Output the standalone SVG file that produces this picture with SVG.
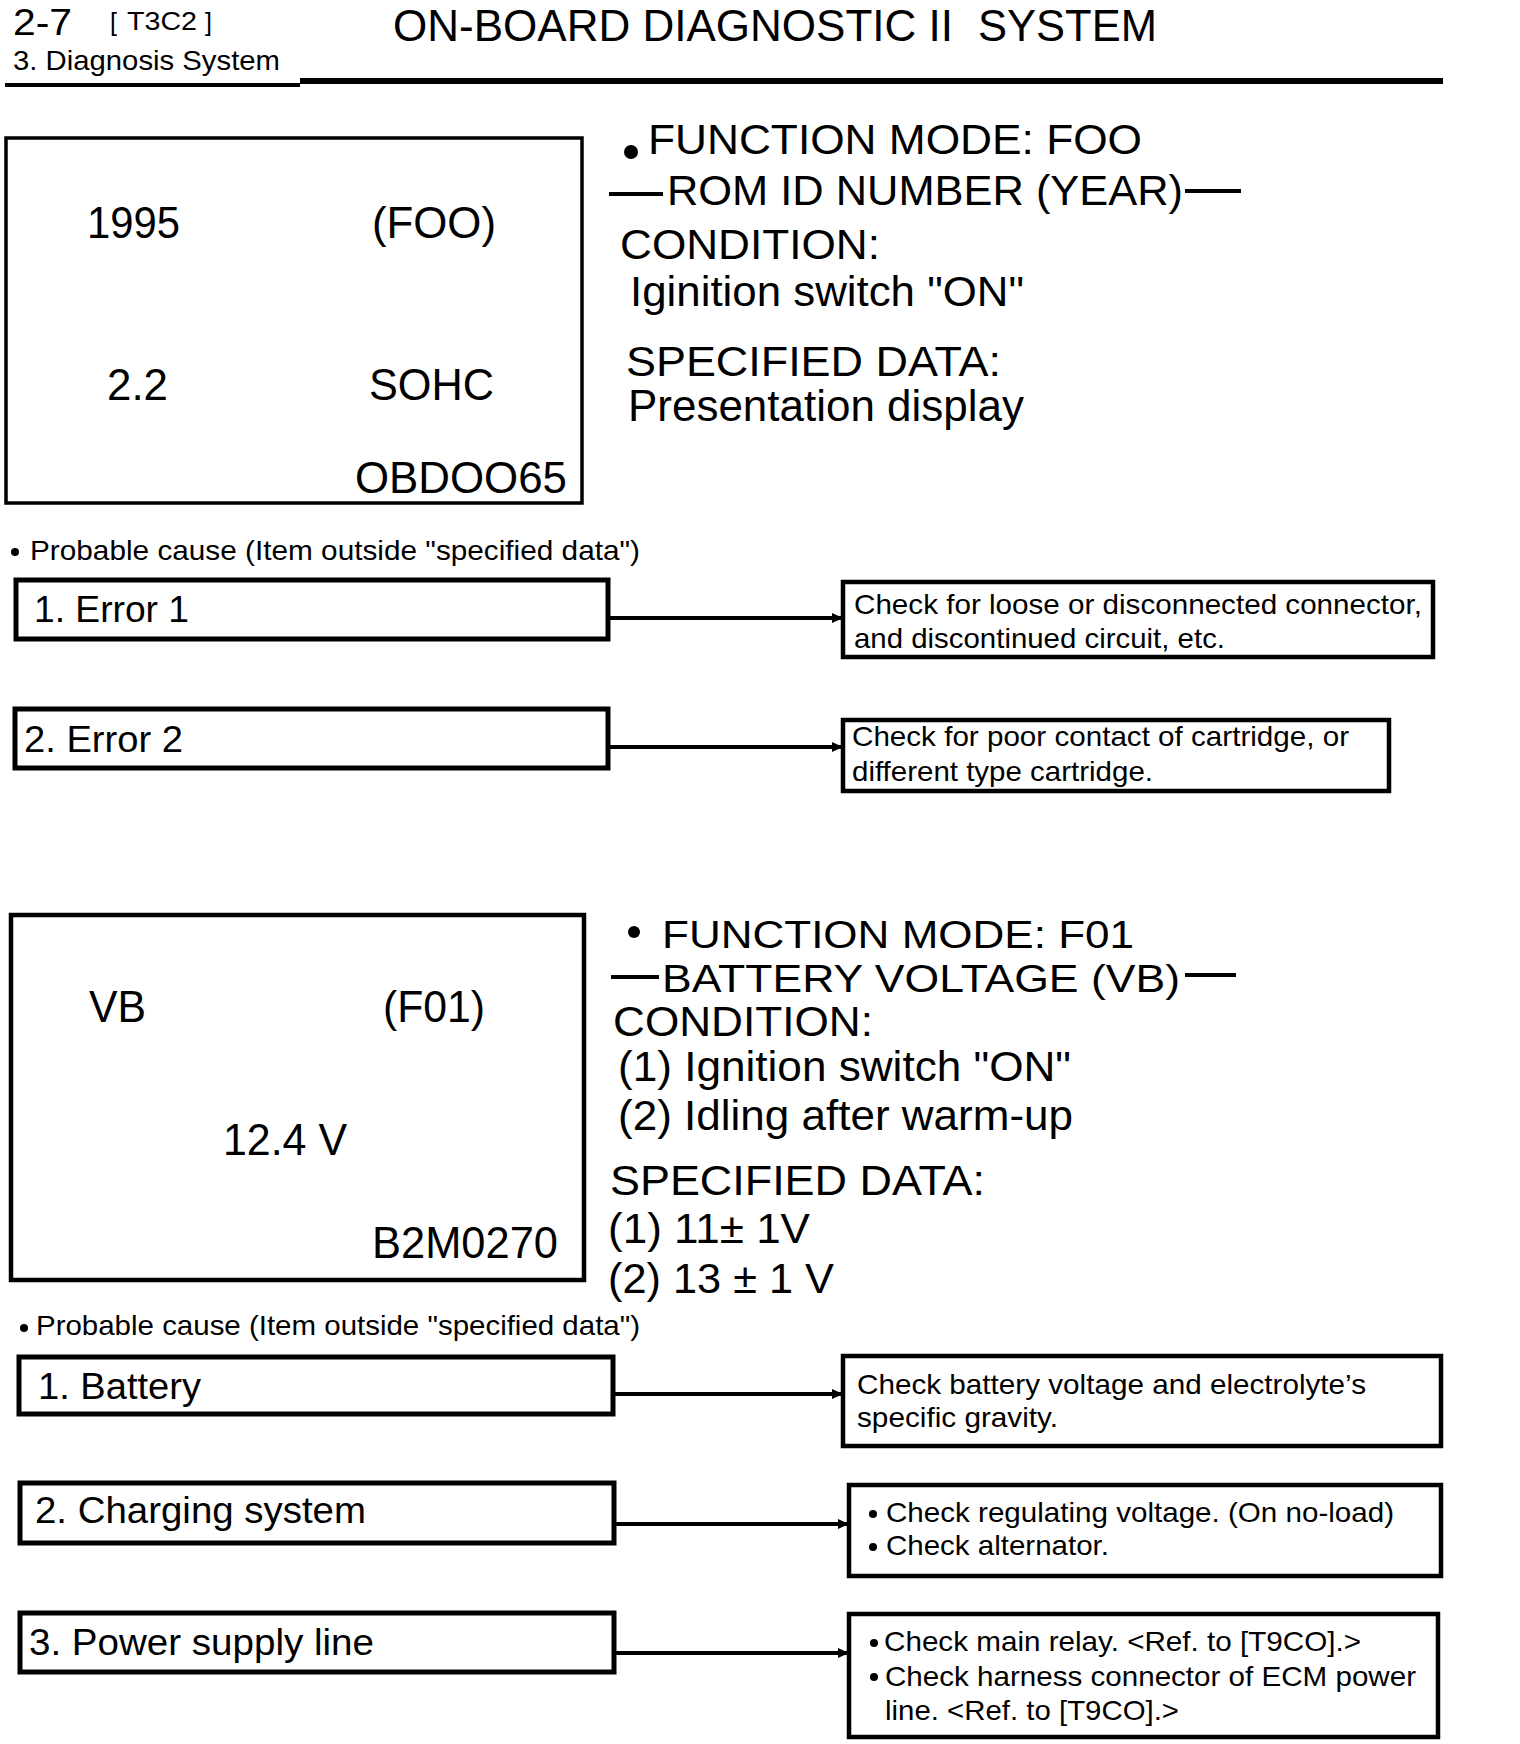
<svg xmlns="http://www.w3.org/2000/svg" width="1520" height="1744" viewBox="0 0 1520 1744">
<style>
text{font-family:"Liberation Sans",Arial,Helvetica,sans-serif;fill:#000}
.hd{font-size:36px}
.sm{font-size:25px}
.sub{font-size:28px}
.ttl{font-size:44px}
.disp{font-size:44px}
.big{font-size:42px}
.cause{font-size:28px}
.item{font-size:36px}
.act{font-size:28px}
.box{fill:#fff;stroke:#000}
.dbox{fill:#fff;stroke:#000;stroke-width:3.5}
.ibox{fill:#fff;stroke:#000;stroke-width:5}
.abox{fill:#fff;stroke:#000;stroke-width:4.5}
.conn{stroke:#000;stroke-width:4;fill:none}
.rule{stroke:#000}
</style>
<defs>
<marker id="ah" markerUnits="userSpaceOnUse" markerWidth="11" markerHeight="10" refX="11" refY="5" orient="auto">
<path d="M0,0 L11,5 L0,10 z" fill="#000"/>
</marker>
</defs>
<rect width="1520" height="1744" fill="#fff"/>

<g id="header">
<text class="hd" x="13" y="35" textLength="59" lengthAdjust="spacingAndGlyphs">2-7</text>
<text class="sm" x="110" y="31">[</text>
<text class="sm" x="127" y="30" textLength="70" lengthAdjust="spacingAndGlyphs">T3C2</text>
<text class="sm" x="205" y="31">]</text>
<text class="sub" x="13" y="70" textLength="267" lengthAdjust="spacingAndGlyphs">3. Diagnosis System</text>
<text class="ttl" x="393" y="41" textLength="560" lengthAdjust="spacingAndGlyphs">ON-BOARD DIAGNOSTIC II</text>
<text class="ttl" x="978" y="41" textLength="179" lengthAdjust="spacingAndGlyphs">SYSTEM</text>
<line class="rule" x1="5" y1="85" x2="300" y2="85" stroke-width="4"/>
<line class="rule" x1="300" y1="81" x2="1443" y2="81" stroke-width="6"/>
</g>

<g id="display-f00">
<rect class="dbox" x="6" y="138" width="576" height="365"/>
<text class="disp" x="87" y="238" textLength="93" lengthAdjust="spacingAndGlyphs">1995</text>
<text class="disp" x="372" y="238" textLength="124" lengthAdjust="spacingAndGlyphs">(FOO)</text>
<text class="disp" x="107" y="400" textLength="61" lengthAdjust="spacingAndGlyphs">2.2</text>
<text class="disp" x="369" y="400" textLength="125" lengthAdjust="spacingAndGlyphs">SOHC</text>
<text class="disp" x="355" y="493" textLength="212" lengthAdjust="spacingAndGlyphs">OBDOO65</text>
</g>

<g id="spec-f00">
<circle cx="631" cy="152" r="7" fill="#000"/>
<text class="big" x="648" y="154" textLength="494" lengthAdjust="spacingAndGlyphs">FUNCTION MODE: FOO</text>
<line class="rule" x1="609" y1="194" x2="663" y2="194" stroke-width="4"/>
<text class="big" x="667" y="205" textLength="516" lengthAdjust="spacingAndGlyphs">ROM ID NUMBER (YEAR)</text>
<line class="rule" x1="1185" y1="191" x2="1241" y2="191" stroke-width="4"/>
<text class="big" x="620" y="259" textLength="260" lengthAdjust="spacingAndGlyphs">CONDITION:</text>
<text class="big" x="630" y="306" textLength="394" lengthAdjust="spacingAndGlyphs">Iginition switch "ON"</text>
<text class="big" x="626" y="376" textLength="375" lengthAdjust="spacingAndGlyphs">SPECIFIED DATA:</text>
<text class="big" x="628" y="421" textLength="396" lengthAdjust="spacingAndGlyphs" style="font-size:44px">Presentation display</text>
</g>

<g id="cause-title-1">
<circle cx="15" cy="552" r="4" fill="#000"/>
<text class="cause" x="30" y="560" textLength="610" lengthAdjust="spacingAndGlyphs">Probable cause (Item outside "specified data")</text>
</g>

<g id="connectors">
<line class="conn" x1="608" y1="618" x2="843" y2="618" marker-end="url(#ah)"/>
<line class="conn" x1="608" y1="747" x2="843" y2="747" marker-end="url(#ah)"/>
<line class="conn" x1="613" y1="1394" x2="843" y2="1394" marker-end="url(#ah)"/>
<line class="conn" x1="614" y1="1524" x2="849" y2="1524" marker-end="url(#ah)"/>
<line class="conn" x1="614" y1="1653" x2="849" y2="1653" marker-end="url(#ah)"/>
</g>

<g id="error-1">
<rect class="ibox" x="16" y="580" width="592" height="59"/>
<text class="item" x="34" y="622" textLength="155" lengthAdjust="spacingAndGlyphs">1. Error 1</text>
</g>
<g id="action-1">
<rect class="abox" x="843" y="582" width="590" height="75"/>
<text class="act" x="854" y="614" textLength="568" lengthAdjust="spacingAndGlyphs">Check for loose or disconnected connector,</text>
<text class="act" x="854" y="648" textLength="371" lengthAdjust="spacingAndGlyphs">and discontinued circuit, etc.</text>
</g>
<g id="error-2">
<rect class="ibox" x="15" y="709" width="593" height="59"/>
<text class="item" x="24" y="752" textLength="159" lengthAdjust="spacingAndGlyphs">2. Error 2</text>
</g>
<g id="action-2">
<rect class="abox" x="843" y="720" width="546" height="71"/>
<text class="act" x="852" y="746" textLength="497" lengthAdjust="spacingAndGlyphs">Check for poor contact of cartridge, or</text>
<text class="act" x="852" y="781" textLength="301" lengthAdjust="spacingAndGlyphs">different type cartridge.</text>
</g>

<g id="display-f01">
<rect class="dbox" x="11" y="915" width="573" height="365" style="stroke-width:4.5"/>
<text class="disp" x="89" y="1022" textLength="57" lengthAdjust="spacingAndGlyphs">VB</text>
<text class="disp" x="383" y="1022" textLength="102" lengthAdjust="spacingAndGlyphs">(F01)</text>
<text class="disp" x="223" y="1155" textLength="124" lengthAdjust="spacingAndGlyphs">12.4 V</text>
<text class="disp" x="372" y="1258" textLength="186" lengthAdjust="spacingAndGlyphs">B2M0270</text>
</g>

<g id="spec-f01">
<circle cx="634" cy="932" r="6" fill="#000"/>
<text class="big" x="662" y="948" textLength="472" lengthAdjust="spacingAndGlyphs" style="font-size:38px">FUNCTION MODE: F01</text>
<line class="rule" x1="611" y1="977" x2="659" y2="977" stroke-width="4"/>
<text class="big" x="662" y="992" textLength="518" lengthAdjust="spacingAndGlyphs" style="font-size:38px">BATTERY VOLTAGE (VB)</text>
<line class="rule" x1="1185" y1="975" x2="1236" y2="975" stroke-width="4"/>
<text class="big" x="613" y="1036" textLength="260" lengthAdjust="spacingAndGlyphs">CONDITION:</text>
<text class="big" x="618" y="1081" textLength="453" lengthAdjust="spacingAndGlyphs">(1) Ignition switch "ON"</text>
<text class="big" x="618" y="1130" textLength="455" lengthAdjust="spacingAndGlyphs">(2) Idling after warm-up</text>
<text class="big" x="610" y="1195" textLength="375" lengthAdjust="spacingAndGlyphs">SPECIFIED DATA:</text>
<text class="big" x="608" y="1243" textLength="202" lengthAdjust="spacingAndGlyphs">(1) 11± 1V</text>
<text class="big" x="608" y="1293" textLength="226" lengthAdjust="spacingAndGlyphs">(2) 13 ± 1 V</text>
</g>

<g id="cause-title-2">
<circle cx="24" cy="1328" r="4" fill="#000"/>
<text class="cause" x="36" y="1335" textLength="604" lengthAdjust="spacingAndGlyphs">Probable cause (Item outside "specified data")</text>
</g>

<g id="cause-battery">
<rect class="ibox" x="19" y="1357" width="594" height="57"/>
<text class="item" x="38" y="1399" textLength="163" lengthAdjust="spacingAndGlyphs">1. Battery</text>
</g>
<g id="action-battery">
<rect class="abox" x="843" y="1356" width="598" height="90"/>
<text class="act" x="857" y="1394" textLength="509" lengthAdjust="spacingAndGlyphs">Check battery voltage and electrolyte’s</text>
<text class="act" x="857" y="1427" textLength="201" lengthAdjust="spacingAndGlyphs">specific gravity.</text>
</g>
<g id="cause-charging">
<rect class="ibox" x="20" y="1483" width="594" height="60"/>
<text class="item" x="35" y="1523" textLength="331" lengthAdjust="spacingAndGlyphs">2. Charging system</text>
</g>
<g id="action-charging">
<rect class="abox" x="849" y="1485" width="592" height="91"/>
<circle cx="873" cy="1514" r="4" fill="#000"/>
<text class="act" x="886" y="1522" textLength="508" lengthAdjust="spacingAndGlyphs">Check regulating voltage. (On no-load)</text>
<circle cx="873" cy="1547" r="4" fill="#000"/>
<text class="act" x="886" y="1555" textLength="223" lengthAdjust="spacingAndGlyphs">Check alternator.</text>
</g>
<g id="cause-power">
<rect class="ibox" x="20" y="1613" width="594" height="59"/>
<text class="item" x="29" y="1655" textLength="345" lengthAdjust="spacingAndGlyphs">3. Power supply line</text>
</g>
<g id="action-power">
<rect class="abox" x="849" y="1614" width="589" height="123"/>
<circle cx="874" cy="1643" r="4" fill="#000"/>
<text class="act" x="884" y="1651" textLength="477" lengthAdjust="spacingAndGlyphs">Check main relay. &lt;Ref. to [T9CO].&gt;</text>
<circle cx="874" cy="1677" r="4" fill="#000"/>
<text class="act" x="885" y="1686" textLength="531" lengthAdjust="spacingAndGlyphs">Check harness connector of ECM power</text>
<text class="act" x="885" y="1720" textLength="294" lengthAdjust="spacingAndGlyphs">line. &lt;Ref. to [T9CO].&gt;</text>
</g>
</svg>
